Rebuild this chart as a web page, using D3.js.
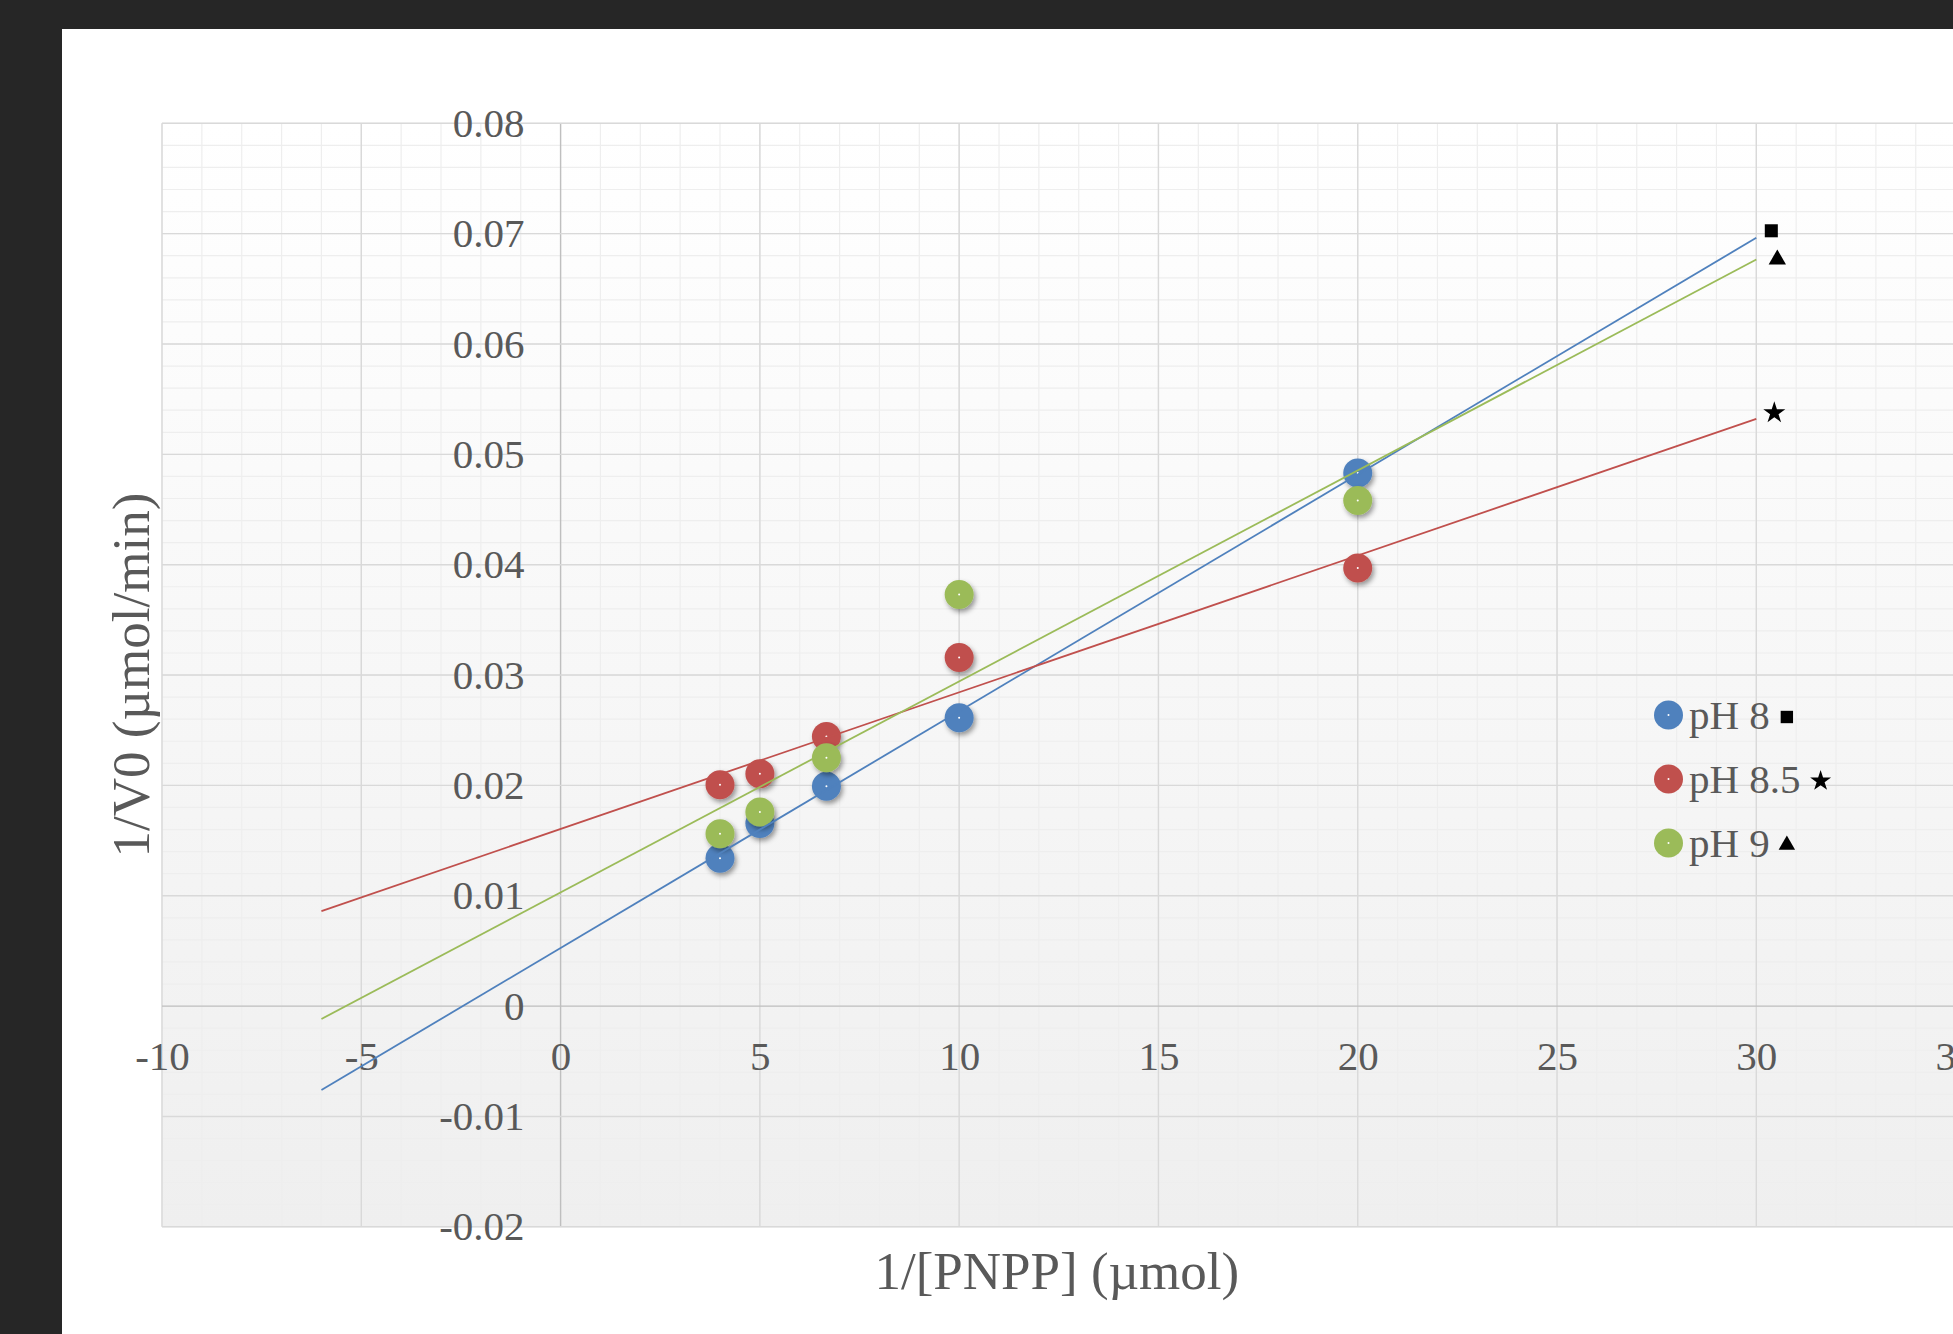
<!DOCTYPE html>
<html>
<head>
<meta charset="utf-8">
<script src="https://cdn.jsdelivr.net/npm/d3@7"></script>
<style>
  html, body { margin: 0; padding: 0; background: #262626; }
  svg { display: block; }
</style>
</head>
<body>
<svg id="chart" width="1953" height="1334"></svg>
<script>
// data
var xValues = [4, 5, 6.67, 10, 20]
var ph8Values = [0.0134, 0.01655, 0.01993, 0.02613, 0.0483]
var ph85Values = [0.02005, 0.02105, 0.02443, 0.0316, 0.0397]
var ph9Values = [0.01561, 0.0176, 0.0225, 0.03731, 0.04582]
var seriesNames = ["pH 8", "pH 8.5", "pH 9"]
var xTicks = [-10, -5, 0, 5, 10, 15, 20, 25, 30, 35]
var yTicks = [-0.02, -0.01, 0, 0.01, 0.02, 0.03, 0.04, 0.05, 0.06, 0.07, 0.08]
var trendRange = [-6, 30]

var colors = ["#4f81bd", "#c0504d", "#9bbb59"]
var symbols = [d3.symbolSquare, d3.symbolStar, d3.symbolTriangle]
var symbolSizes = [170, 150, 130]
// where the end-of-line symbol sits, relative to the trend line end
var symbolOffsets = [[15, -7], [18, -6], [21, 0]]
var legendGap = [17, 20, 17]
var font = "'Liberation Serif', 'Times New Roman', serif"
var textColor = "#595959"

var width = 1953
var height = 1334
var plot = { left: 162, right: 1955.6, top: 123.3, bottom: 1226.8 }

var svg = d3.select("#chart")

var xScale = d3.scaleLinear().domain([-10, 35]).range([plot.left, plot.right])
var yScale = d3.scaleLinear().domain([-0.02, 0.08]).range([plot.bottom, plot.top])

var series = [ph8Values, ph85Values, ph9Values].map(function (vals, i) {
    return {
        name: seriesNames[i],
        color: colors[i],
        symbol: symbols[i],
        size: symbolSizes[i],
        offset: symbolOffsets[i],
        gap: legendGap[i],
        points: xValues.map(function (x, j) { return { x: x, y: vals[j] } })
    }
})

// linear trend line (least squares)
function fit(points) {
    var mx = d3.mean(points, d => d.x)
    var my = d3.mean(points, d => d.y)
    var sxy = d3.sum(points, d => (d.x - mx) * (d.y - my))
    var sxx = d3.sum(points, d => (d.x - mx) * (d.x - mx))
    var slope = sxy / sxx
    return { slope: slope, intercept: my - slope * mx }
}

var defs = svg.append("defs")
var grad = defs.append("linearGradient").attr("id", "bg").attr("x1", 0).attr("y1", 0).attr("x2", 0).attr("y2", 1)
grad.append("stop").attr("offset", "0%").attr("stop-color", "#ffffff")
grad.append("stop").attr("offset", "100%").attr("stop-color", "#efefef")
var shadow = defs.append("filter").attr("id", "shadow").attr("x", "-50%").attr("y", "-50%").attr("width", "200%").attr("height", "200%")
shadow.append("feDropShadow").attr("dx", 2).attr("dy", 3).attr("stdDeviation", 2.4)
    .attr("flood-color", "#000").attr("flood-opacity", 0.4)

// white panel
svg.append("rect").attr("x", 62).attr("y", 29).attr("width", width).attr("height", height).attr("fill", "#ffffff")

// plot area
svg.append("rect")
    .attr("x", plot.left).attr("y", plot.top)
    .attr("width", plot.right - plot.left).attr("height", plot.bottom - plot.top)
    .attr("fill", "url(#bg)")

// gridlines
var grid = svg.append("g")
grid.selectAll(".vminor").data(xScale.ticks(45)).enter().append("line")
    .attr("x1", d => xScale(d)).attr("x2", d => xScale(d))
    .attr("y1", plot.top).attr("y2", plot.bottom)
    .attr("stroke", "#eeeeee").attr("stroke-width", 1.2)
grid.selectAll(".hminor").data(yScale.ticks(50)).enter().append("line")
    .attr("y1", d => yScale(d)).attr("y2", d => yScale(d))
    .attr("x1", plot.left).attr("x2", plot.right)
    .attr("stroke", "#eeeeee").attr("stroke-width", 1.2)
grid.selectAll(".vmajor").data(xTicks).enter().append("line")
    .attr("x1", d => xScale(d)).attr("x2", d => xScale(d))
    .attr("y1", plot.top).attr("y2", plot.bottom)
    .attr("stroke", d => d === 0 ? "#bfbfbf" : "#d9d9d9").attr("stroke-width", 1.4)
grid.selectAll(".hmajor").data(yTicks).enter().append("line")
    .attr("y1", d => yScale(d)).attr("y2", d => yScale(d))
    .attr("x1", plot.left).attr("x2", plot.right)
    .attr("stroke", d => d === 0 ? "#bfbfbf" : "#d9d9d9").attr("stroke-width", 1.4)

// axes (labels only, crossing at 0)
function fmt(d) {
    if (d === 0) return "0"
    var s = Math.abs(d) < 1 && d % 1 !== 0 ? Math.abs(d).toFixed(2) : String(Math.abs(d))
    return (d < 0 ? "-" : "") + s
}
var xAxis = d3.axisBottom(xScale).tickValues(xTicks).tickSize(0).tickPadding(35).tickFormat(fmt)
var yAxis = d3.axisLeft(yScale).tickValues(yTicks).tickSize(0).tickPadding(36).tickFormat(fmt)

svg.append("g")
    .attr("transform", "translate(0," + yScale(0) + ")")
    .call(xAxis)
    .call(g => g.select(".domain").remove())
    .selectAll("text")
    .attr("font-family", font).attr("font-size", 41).attr("fill", textColor)
svg.append("g")
    .attr("transform", "translate(" + xScale(0) + ",0)")
    .call(yAxis)
    .call(g => g.select(".domain").remove())
    .selectAll("text")
    .attr("font-family", font).attr("font-size", 41).attr("fill", textColor)

// axis titles
svg.append("text")
    .attr("x", (plot.left + plot.right) / 2 - 2).attr("y", 1289)
    .attr("text-anchor", "middle")
    .attr("font-family", font).attr("font-size", 53).attr("fill", textColor)
    .text("1/[PNPP] (µmol)")
svg.append("text")
    .attr("transform", "translate(149," + (plot.top + plot.bottom) / 2 + ") rotate(-90)")
    .attr("text-anchor", "middle")
    .attr("font-family", font).attr("font-size", 53).attr("fill", textColor)
    .text("1/V0 (µmol/min)")

// markers
series.forEach(function (s) {
    var g = svg.append("g")
    g.selectAll("circle.m").data(s.points).enter().append("circle")
        .attr("cx", d => xScale(d.x)).attr("cy", d => yScale(d.y))
        .attr("r", 14.5).attr("fill", s.color).attr("filter", "url(#shadow)")
    g.selectAll("circle.dot").data(s.points).enter().append("circle")
        .attr("cx", d => xScale(d.x)).attr("cy", d => yScale(d.y))
        .attr("r", 1).attr("fill", "#ffffff")
})

// trend lines + end symbols
series.forEach(function (s) {
    var f = fit(s.points)
    var ends = trendRange.map(x => ({ x: x, y: f.intercept + f.slope * x }))
    svg.append("path")
        .datum(ends)
        .attr("d", d3.line().x(d => xScale(d.x)).y(d => yScale(d.y)))
        .attr("fill", "none").attr("stroke", s.color).attr("stroke-width", 1.8)
    var last = ends[1]
    svg.append("path")
        .attr("d", d3.symbol().type(s.symbol).size(s.size)())
        .attr("transform", "translate(" + (xScale(last.x) + s.offset[0]) + "," + (yScale(last.y) + s.offset[1]) + ")")
        .attr("fill", "#000")
})

// legend
var legend = svg.append("g").attr("transform", "translate(1668.5,715)")
series.forEach(function (s, i) {
    var row = legend.append("g").attr("transform", "translate(0," + i * 64 + ")")
    row.append("circle").attr("r", 14.5).attr("fill", s.color)
    row.append("circle").attr("r", 1).attr("fill", "#ffffff")
    var t = row.append("text")
        .attr("x", 20.5).attr("y", 14)
        .attr("font-family", font).attr("font-size", 41).attr("fill", textColor)
        .text(s.name)
    var w = t.node().getComputedTextLength()
    row.append("path")
        .attr("d", d3.symbol().type(s.symbol).size(s.size * 0.9)())
        .attr("transform", "translate(" + (20.5 + w + s.gap) + ",2)")
        .attr("fill", "#000")
})
</script>
</body>
</html>
